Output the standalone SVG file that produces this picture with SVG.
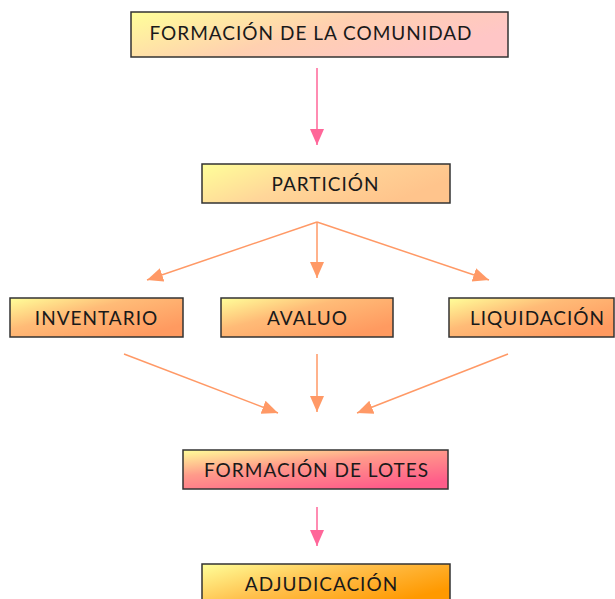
<svg xmlns="http://www.w3.org/2000/svg" width="615" height="599" viewBox="0 0 615 599">
<defs>
<linearGradient id="gPink" x1="0" y1="0" x2="1" y2="0.4"><stop offset="0" stop-color="#ffff99"/><stop offset="0.55" stop-color="#ffd0b0"/><stop offset="1" stop-color="#ffc6c6"/></linearGradient>
<linearGradient id="gPeach" x1="0" y1="0" x2="1" y2="0.4"><stop offset="0" stop-color="#ffff99"/><stop offset="0.5" stop-color="#ffd699"/><stop offset="1" stop-color="#ffc48c"/></linearGradient>
<linearGradient id="gOrange" x1="0" y1="0" x2="0.9" y2="0.8"><stop offset="0" stop-color="#ffff99"/><stop offset="0.45" stop-color="#ffbb77"/><stop offset="1" stop-color="#ff9a60"/></linearGradient>
<linearGradient id="gRose" x1="0" y1="0" x2="0.7" y2="1"><stop offset="0" stop-color="#ffff99"/><stop offset="0.45" stop-color="#ff9a8a"/><stop offset="1" stop-color="#ff5c8a"/></linearGradient>
<linearGradient id="gAmber" x1="0" y1="0" x2="1" y2="0.6"><stop offset="0" stop-color="#ffff99"/><stop offset="0.5" stop-color="#ffc04d"/><stop offset="1" stop-color="#ff9900"/></linearGradient>
<marker id="aO" viewBox="0 0 16 16" refX="16" refY="8" markerWidth="16" markerHeight="16" markerUnits="userSpaceOnUse" orient="auto"><path d="M0,1 L16,8 L0,15 Z" fill="#ff9966"/></marker>
<marker id="aP" viewBox="0 0 16 16" refX="16" refY="8" markerWidth="16" markerHeight="16" markerUnits="userSpaceOnUse" orient="auto"><path d="M0,1 L16,8 L0,15 Z" fill="#ff6699"/></marker>
</defs>
<style>
.box{stroke:#333;stroke-width:1.5}
.t{font-family:Lato,"Open Sans","Liberation Sans",sans-serif;font-size:19px;letter-spacing:1px;fill:#1a1a1a;text-anchor:middle}
.o{stroke:#ff9966;stroke-width:1.5;fill:none;marker-end:url(#aO)}
.p{stroke:#ff6699;stroke-width:1.5;fill:none;marker-end:url(#aP)}
</style>
<rect width="615" height="599" fill="#fff"/>
<g id="connectors">
<line class="p" x1="317" y1="68" x2="317" y2="145"/>
<line class="o" x1="317" y1="222" x2="147" y2="280"/>
<line class="o" x1="317" y1="222" x2="317" y2="278"/>
<line class="o" x1="317" y1="222" x2="489" y2="280"/>
<line class="o" x1="124" y1="354" x2="278" y2="413"/>
<line class="o" x1="317" y1="354" x2="317" y2="412"/>
<line class="o" x1="508" y1="354" x2="357" y2="413"/>
<line class="p" x1="317" y1="507" x2="317" y2="546"/>
</g>
<g id="comunidad"><rect class="box" x="131" y="12" width="377" height="45" fill="url(#gPink)"/><text class="t" x="311" y="39.5">FORMACIÓN DE LA COMUNIDAD</text></g>
<g id="particion"><rect class="box" x="202" y="164" width="248" height="39" fill="url(#gPeach)"/><text class="t" x="325.5" y="190.5">PARTICIÓN</text></g>
<g id="inventario"><rect class="box" x="10" y="298" width="173" height="39" fill="url(#gOrange)"/><text class="t" x="96.5" y="324.5">INVENTARIO</text></g>
<g id="avaluo"><rect class="box" x="221" y="298" width="172" height="39" fill="url(#gOrange)"/><text class="t" x="307.5" y="324.5">AVALUO</text></g>
<g id="liquidacion"><rect class="box" x="449" y="298" width="165" height="39" fill="url(#gOrange)"/><text class="t" x="537.5" y="324.5">LIQUIDACIÓN</text></g>
<g id="lotes"><rect class="box" x="183" y="450" width="265" height="39" fill="url(#gRose)"/><text class="t" x="316.5" y="476.5">FORMACIÓN DE LOTES</text></g>
<g id="adjudicacion"><rect class="box" x="202" y="564" width="248" height="40" fill="url(#gAmber)"/><text class="t" x="321.5" y="590.5">ADJUDICACIÓN</text></g>
</svg>
